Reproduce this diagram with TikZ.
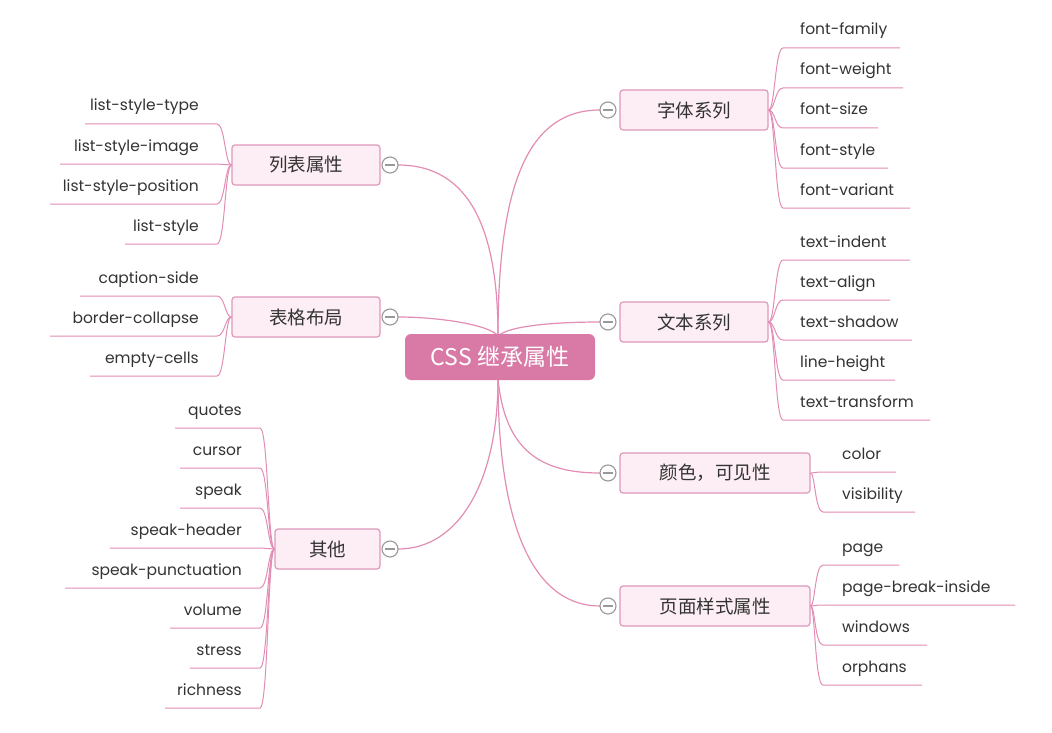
\documentclass[tikz,border=0pt]{standalone}
\usepackage{fontspec}
\setmainfont{Poppins}
\newfontfamily\cjk{Noto Sans CJK SC}
\definecolor{ln}{HTML}{E38DB5}
\definecolor{bx}{HTML}{FCEEF4}
\definecolor{bd}{HTML}{DE98BA}
\definecolor{ctr}{HTML}{D97AA6}
\definecolor{tx}{HTML}{333333}
\definecolor{cg}{HTML}{999999}
\begin{document}
\begin{tikzpicture}[x=1pt,y=-1pt,
  link/.style={draw=ln,line width=1.2pt},
  branch/.style={draw=bd,fill=bx,rounded corners=3pt,line width=1.2pt,minimum height=40pt,font=\cjk\fontsize{18.5}{18}\selectfont,text=tx,inner sep=0pt},
  leaf/.style={font=\fontsize{15.5}{16}\selectfont,text=tx,inner sep=0pt},
  tog/.style={circle,draw=cg,fill=white,line width=1.1pt,minimum size=16pt,inner sep=0pt}]
\useasboundingbox (0,0) rectangle (1052,733);
\fill[white] (0,0) rectangle (1052,733);
\coordinate (ctop) at (498,336);
\coordinate (cbot) at (498,379);
\node[branch,minimum width=148pt] (b1) at (694,110) {字体系列};
\node[branch,minimum width=148pt] (b2) at (694,322) {文本系列};
\node[branch,minimum width=190pt] (b3) at (715,473) {颜色，可见性};
\node[branch,minimum width=190pt] (b4) at (715,606) {页面样式属性};
\node[branch,minimum width=148pt] (l1) at (306,165) {列表属性};
\node[branch,minimum width=148pt] (l2) at (306,317) {表格布局};
\node[branch,minimum width=105pt] (l3) at (327.5,549) {其他};
% main links
\draw[link] (ctop) .. controls (498,180) and (530,110) .. (600,110);
\draw[link] (ctop) .. controls (510,325) and (560,322) .. (600,322);
\draw[link] (cbot) .. controls (505,450) and (540,473) .. (600,473);
\draw[link] (cbot) .. controls (498,540) and (540,606) .. (600,606);
\draw[link] (ctop) .. controls (498,230) and (470,165) .. (398,165);
\draw[link] (ctop) .. controls (490,325) and (440,317) .. (398,317);
\draw[link] (cbot) .. controls (498,480) and (460,549) .. (398,549);
\node[fill=ctr,rounded corners=6pt,minimum width=190pt,minimum height=46pt,text=white,font=\cjk\fontsize{23}{23}\selectfont,inner sep=0pt] (c) at (500,357) {CSS 继承属性};
\foreach \n/\x/\y in {t1/608/110,t2/608/322,t3/608/473,t4/608/606,s1/390/165,s2/390/317,s3/390/549}{
  \node[tog] (\n) at (\x,\y) {};
  \draw[cg,line width=1.1pt] ([xshift=-5pt]\n.center) -- ([xshift=5pt]\n.center);
}
% right leaves
\foreach \b/\by/\xs/\tx/\n/\y/\e/\t in {
 b1/110/775/800/r1/48/900/font-family, b1/110/775/800/r2/88/903/font-weight, b1/110/775/800/r3/128/878/font-size, b1/110/775/800/r4/168/888/font-style, b1/110/775/800/r5/208/910/font-variant,
 b2/322/775/800/r6/260/910/text-indent, b2/322/775/800/r7/300/890/text-align, b2/322/775/800/r8/340/912/text-shadow, b2/322/775/800/r9/380/895/line-height, b2/322/775/800/r10/420/930/text-transform,
 b3/473/815/842/r11/472/896/color, b3/473/815/842/r12/512/915/visibility,
 b4/606/815/842/r13/565/899/page, b4/606/815/842/r14/605/1015/page-break-inside, b4/606/815/842/r15/645/927/windows, b4/606/815/842/r16/685/922/orphans}{
  \coordinate (\n) at (\e,\y);
  \node[leaf,anchor=base west] (\n t) at (\tx,\y-13) {\t};
  \draw[link,line width=1pt] (\b.east) .. controls (\xs,\by) and (\xs,\y) .. (\xs+8,\y) -- (\n);
}
% left leaves
\foreach \b/\by/\xs/\n/\y/\e/\t in {
 l1/165/225/q1/124/85/list-style-type, l1/165/225/q2/164/60/list-style-image, l1/165/225/q3/204/50/list-style-position, l1/165/225/q4/244/125/list-style,
 l2/317/225/q5/296/80/caption-side, l2/317/225/q6/336/50/border-collapse, l2/317/225/q7/376/90/empty-cells,
 l3/549/268/q8/428/175/quotes, l3/549/268/q9/468/180/cursor, l3/549/268/q10/508/180/speak, l3/549/268/q11/548/110/speak-header, l3/549/268/q12/588/65/speak-punctuation, l3/549/268/q13/628/170/volume, l3/549/268/q14/668/190/stress, l3/549/268/q15/708/165/richness}{
  \coordinate (\n) at (\e,\y);
  \node[leaf,anchor=base east] (\n t) at (\xs-26,\y-13) {\t};
  \draw[link,line width=1pt] (\b.west) .. controls (\xs,\by) and (\xs,\y) .. (\xs-8,\y) -- (\n);
}
\end{tikzpicture}
\end{document}
